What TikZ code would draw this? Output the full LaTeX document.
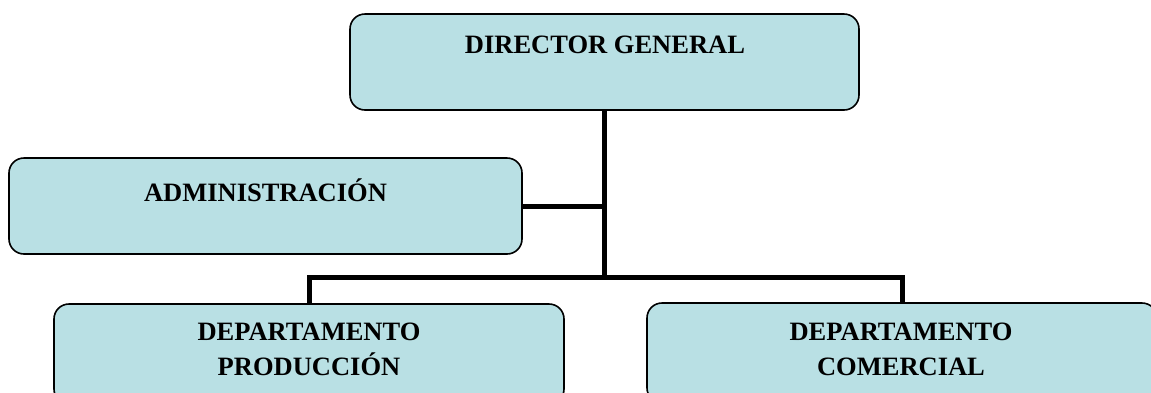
\documentclass[tikz,border=0pt]{standalone}
\usepackage{fontspec}
\setmainfont{Liberation Serif}
\begin{document}
\begin{tikzpicture}[x=1pt,y=-1pt,
  box/.style={draw=black,line width=1.6pt,fill=boxfill,rounded corners=15pt,inner sep=0pt},
  lbl/.style={font=\fontsize{26.5}{35}\selectfont\bfseries,align=center,inner sep=0pt},
  conn/.style={line width=5pt,draw=black}]
\definecolor{boxfill}{RGB}{185,224,228}
\useasboundingbox (0,0) rectangle (1151,392);
\clip (0,0) rectangle (1151,392);
\node[box,minimum width=509pt,minimum height=96pt] (dg) at (604.5,62) {};
\node[box,minimum width=513pt,minimum height=96pt] (adm) at (265.5,206) {};
\node[box,minimum width=510pt,minimum height=100pt] (prod) at (309,354) {};
\node[box,minimum width=510pt,minimum height=100pt] (com) at (902,353) {};
\node[lbl] (dgt) at (605,45) {DIRECTOR GENERAL};
\node[lbl] (admt) at (265.5,190) {ADMINISTRACIÓN};
\node[lbl] (prodt) at (309,349) {DEPARTAMENTO\\PRODUCCIÓN};
\node[lbl] (comt) at (901,349) {DEPARTAMENTO\\COMERCIAL};
\coordinate (bus) at (604.5,277);
\draw[conn] (dg.south) -- (bus);
\draw[conn] (adm.east) -- (adm.east -| bus);
\draw[conn] (prod.north) |- (bus) -| (com.north);
\end{tikzpicture}
\end{document}
